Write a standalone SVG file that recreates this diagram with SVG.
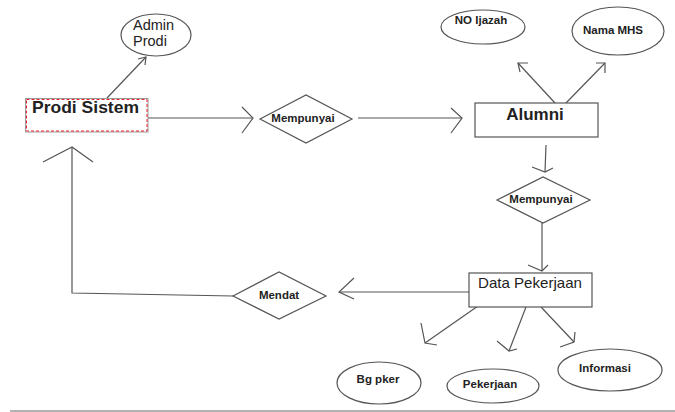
<svg xmlns="http://www.w3.org/2000/svg" width="675" height="412" viewBox="0 0 675 412">
<style>
.ln{fill:none;stroke:#555;stroke-width:1.2;stroke-linejoin:miter}
.sh{fill:#fff;stroke:#555;stroke-width:1.2}
.t{font-family:"Liberation Sans",Arial,sans-serif;fill:#222}
.b{font-weight:bold;font-size:11.5px}
.c{text-anchor:middle}
</style>
<rect x="0" y="0" width="675" height="412" fill="#fff"/>
<g id="connectors">
<path class="ln" d="M107,98 L146,57"/>
<path class="ln" d="M138,59 L146,57 L145,65"/>
<path class="ln" d="M148,118 L253,118"/>
<path class="ln" d="M242,107 L253,118 L242,133"/>
<path class="ln" d="M358,118 L462,118"/>
<path class="ln" d="M451,108 L462,118 L451,133"/>
<path class="ln" d="M555,103 L518,63"/>
<path class="ln" d="M528,63 L518,63 L520,72"/>
<path class="ln" d="M566,103 L605,63"/>
<path class="ln" d="M596,63 L605,63 L605,73"/>
<path class="ln" d="M546,145 L545,172"/>
<path class="ln" d="M532,167 L545,172 L553,168"/>
<path class="ln" d="M542,223 L542,271"/>
<path class="ln" d="M528,265 L542,271 L548,265"/>
<path class="ln" d="M469,292 L339,292"/>
<path class="ln" d="M354,278 L339,292 L354,299"/>
<path class="ln" d="M233,296 L72,293 L72,147"/>
<path class="ln" d="M43,162 L72,147 L93,162"/>
<path class="ln" d="M478,306 L425,343"/>
<path class="ln" d="M421,323 L425,343 L437,345"/>
<path class="ln" d="M526,307 L509,351"/>
<path class="ln" d="M497,341 L509,351 L517,349"/>
<path class="ln" d="M541,307 L574,342"/>
<path class="ln" d="M575,332 L574,342 L560,347"/>
</g>
<g id="admin-prodi">
<ellipse class="sh" cx="156" cy="35" rx="35" ry="21"/>
<text class="t" x="133" y="30" font-size="14.5" fill="#333">Admin</text>
<text class="t" x="133" y="46" font-size="14.5" fill="#333">Prodi</text>
</g>
<g id="prodi-sistem">
<rect x="25.5" y="98.5" width="122.5" height="33.5" fill="#fff" stroke="#999" stroke-width="1"/>
<rect x="26.5" y="99.5" width="120.5" height="31.5" fill="none" stroke="#e8202a" stroke-width="1" stroke-dasharray="3 2"/>
<text class="t" x="32" y="113" font-size="17" font-weight="bold" textLength="107" lengthAdjust="spacingAndGlyphs">Prodi Sistem</text>
</g>
<g id="mempunyai-1">
<polygon class="sh" points="260,119 306,95 352,119 306,143"/>
<text class="t b c" x="303" y="122">Mempunyai</text>
</g>
<g id="alumni">
<rect class="sh" x="475" y="103" width="123" height="34"/>
<text class="t c" x="535" y="120" font-size="17" font-weight="bold">Alumni</text>
</g>
<g id="no-ijazah">
<ellipse class="sh" cx="483" cy="27" rx="42" ry="17"/>
<text class="t b c" x="481" y="24">NO Ijazah</text>
</g>
<g id="nama-mhs">
<ellipse class="sh" cx="618" cy="31" rx="46" ry="24"/>
<text class="t b c" x="613" y="34">Nama MHS</text>
</g>
<g id="mempunyai-2">
<polygon class="sh" points="497,200 543,177 590,200 543,223"/>
<text class="t b c" x="541" y="203">Mempunyai</text>
</g>
<g id="data-pekerjaan">
<rect class="sh" x="469" y="273" width="123" height="34"/>
<text class="t" x="478" y="288" font-size="15" textLength="104" lengthAdjust="spacingAndGlyphs">Data Pekerjaan</text>
</g>
<g id="mendat">
<polygon class="sh" points="233,296 279,272 326,296 279,319"/>
<text class="t b c" x="279" y="299">Mendat</text>
</g>
<g id="bg-pker">
<ellipse class="sh" cx="379" cy="383" rx="42" ry="21"/>
<text class="t b c" x="378" y="383">Bg pker</text>
</g>
<g id="pekerjaan">
<ellipse class="sh" cx="493" cy="386" rx="46" ry="17"/>
<text class="t b c" x="490" y="388">Pekerjaan</text>
</g>
<g id="informasi">
<ellipse class="sh" cx="610" cy="370" rx="52" ry="21"/>
<text class="t b c" x="605" y="372">Informasi</text>
</g>
<line x1="10" y1="411" x2="675" y2="411" stroke="#999" stroke-width="1.5"/>
</svg>
